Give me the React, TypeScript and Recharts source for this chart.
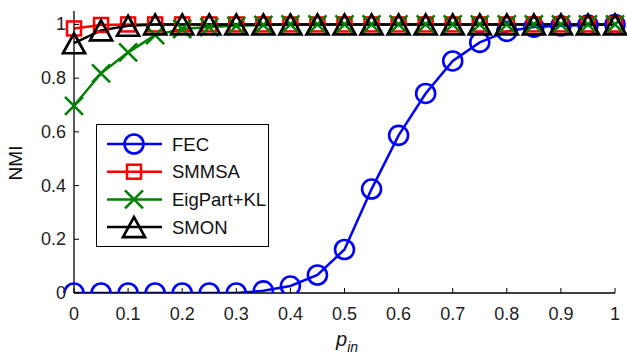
import { LineChart, Line, XAxis, YAxis } from 'recharts';

const pIn = [0, 0.05, 0.1, 0.15, 0.2, 0.25, 0.3, 0.35, 0.4, 0.45, 0.5, 0.55, 0.6, 0.65, 0.7, 0.75, 0.8, 0.85, 0.9, 0.95, 1];
const fec = [0, 0, 0, 0, 0, 0, 0, 0.008, 0.026, 0.067, 0.162, 0.387, 0.587, 0.743, 0.864, 0.933, 0.974, 0.99, 0.995, 0.998, 1];
const smmsa = [0.985, 0.998, 1, 1, 1, 1, 1, 1, 1, 1, 1, 1, 1, 1, 1, 1, 1, 1, 1, 1, 1];
const eigPart = [0.697, 0.818, 0.896, 0.96, 0.983, 0.99, 0.995, 0.998, 1, 1, 1, 1, 1, 1, 1, 1, 1, 1, 1, 1, 1];
const smon = [0.93, 0.978, 0.995, 1, 1, 1, 1, 1, 1, 1, 1, 1, 1, 1, 1, 1, 1, 1, 1, 1, 1];

const xTicks = [0, 0.1, 0.2, 0.3, 0.4, 0.5, 0.6, 0.7, 0.8, 0.9, 1];
const yTicks = [0, 0.2, 0.4, 0.6, 0.8, 1];

const data = pIn.map((p, i) => ({ p, fec: fec[i], smmsa: smmsa[i], eig: eigPart[i], smon: smon[i] }));

const FONT = 'Liberation Sans, Arial, sans-serif';

// marker shapes
function Circle({ cx, cy }: any) {
  return <circle cx={cx} cy={cy} r={9.5} fill="none" stroke="#0000ff" strokeWidth={2.6} />;
}
function Square({ cx, cy }: any) {
  return <rect x={cx - 7} y={cy - 7} width={14} height={14} fill="none" stroke="#ff0000" strokeWidth={2.5} />;
}
function Cross({ cx, cy }: any) {
  const s = 9;
  return (
    <path d={`M${cx - s},${cy - s}L${cx + s},${cy + s}M${cx - s},${cy + s}L${cx + s},${cy - s}`} stroke="#008000" strokeWidth={2.5} fill="none" />
  );
}
function Triangle({ cx, cy }: any) {
  const w = 11, h = 10;
  return (
    <path d={`M${cx},${cy - h}L${cx + w},${cy + h}L${cx - w},${cy + h}Z`} fill="none" stroke="#000" strokeWidth={2.7} strokeLinejoin="miter" />
  );
}

const dotOf = (Shape: any) => (props: any) => <Shape key={`d${props.index}`} cx={props.cx} cy={props.cy} />;

function BottomTick({ x, y, payload }: any) {
  return (
    <g>
      <line x1={x} y1={y} x2={x} y2={y - 5} stroke="#000" />
      <text x={x} y={y + 27} textAnchor="middle" fontSize={18} fontFamily={FONT} fill="#222">
        {String(payload.value)}
      </text>
    </g>
  );
}
function TopTick({ x, y }: any) {
  return <line x1={x} y1={y} x2={x} y2={y + 5} stroke="#000" />;
}
function LeftTick({ x, y, payload }: any) {
  return (
    <g>
      <line x1={x} y1={y} x2={x + 5} y2={y} stroke="#000" />
      <text x={x - 8} y={y + 6} textAnchor="end" fontSize={18} fontFamily={FONT} fill="#222">
        {String(payload.value)}
      </text>
    </g>
  );
}
function RightTick({ x, y }: any) {
  return <line x1={x} y1={y} x2={x - 5} y2={y} stroke="#000" />;
}

const legendItems = [
  { name: 'FEC', color: '#0000ff', Shape: Circle },
  { name: 'SMMSA', color: '#ff0000', Shape: Square },
  { name: 'EigPart+KL', color: '#008000', Shape: Cross },
  { name: 'SMON', color: '#000', Shape: Triangle },
];

function LegendBox() {
  return (
    <svg width={173} height={123} style={{ display: 'block' }}>
      <rect x={0.5} y={0.5} width={172} height={122} fill="#fff" stroke="#000" />
      {legendItems.map((it, i) => {
        const cy = 20 + i * 27.7;
        return (
          <g key={it.name}>
            <line x1={11} x2={66} y1={cy} y2={cy} stroke={it.color} strokeWidth={2.5} />
            <it.Shape cx={38} cy={cy} />
            <text x={76} y={cy + 6.5} fontSize={18.5} fontFamily={FONT} fill="#111">
              {it.name}
            </text>
          </g>
        );
      })}
    </svg>
  );
}

const YLabel = () => (
  <text x={22} y={163} transform="rotate(-90 22 163)" textAnchor="middle" fontSize={19} fontFamily={FONT} fill="#111">
    NMI
  </text>
);

const XLabel = () => (
  <text x={336} y={346} fontSize={20} fontFamily={FONT} fontStyle="italic" fill="#111">
    p
    <tspan fontSize={14} dy={6}>in</tspan>
  </text>
);

export default function App() {
  return (
    <div style={{ position: 'absolute', left: 0, top: 0, width: 627, height: 358, background: '#fff' }}>
      <LineChart width={627} height={358} data={data} margin={{ top: 11, right: 12, bottom: 0, left: 0 }}>
        <XAxis
          dataKey="p"
          type="number"
          domain={[0, 1]}
          ticks={xTicks}
          height={65}
          tickSize={0}
          tickMargin={0}
          tick={<BottomTick />}
          axisLine={{ stroke: '#000', strokeWidth: 1.3 }}
          interval={0}
          label={<XLabel />}
        />
        <XAxis
          xAxisId="top"
          orientation="top"
          dataKey="p"
          type="number"
          domain={[0, 1]}
          ticks={xTicks}
          height={0}
          tickSize={0}
          tickMargin={0}
          tick={<TopTick />}
          axisLine={{ stroke: '#000', strokeWidth: 1.3 }}
          interval={0}
        />
        <YAxis
          type="number"
          domain={[0, 1.05]}
          ticks={yTicks}
          width={74}
          tickSize={0}
          tickMargin={0}
          tick={<LeftTick />}
          axisLine={{ stroke: '#000', strokeWidth: 1.3 }}
          interval={0}
          allowDataOverflow
          label={<YLabel />}
        />
        <YAxis
          yAxisId="right"
          orientation="right"
          type="number"
          domain={[0, 1.05]}
          ticks={yTicks}
          width={0}
          tickSize={0}
          tickMargin={0}
          tick={<RightTick />}
          axisLine={{ stroke: '#000', strokeWidth: 1.3 }}
          interval={0}
        />
        <Line dataKey="fec" stroke="#0000ff" strokeWidth={2.5} dot={dotOf(Circle)} isAnimationActive={false} />
        <Line dataKey="smmsa" stroke="#ff0000" strokeWidth={2.5} dot={dotOf(Square)} isAnimationActive={false} />
        <Line dataKey="eig" stroke="#008000" strokeWidth={2.5} dot={dotOf(Cross)} isAnimationActive={false} />
        <Line dataKey="smon" stroke="#000" strokeWidth={2.5} dot={dotOf(Triangle)} isAnimationActive={false} />
      </LineChart>
      <div style={{ position: 'absolute', left: 96, top: 124 }}>
        <LegendBox />
      </div>
    </div>
  );
}
